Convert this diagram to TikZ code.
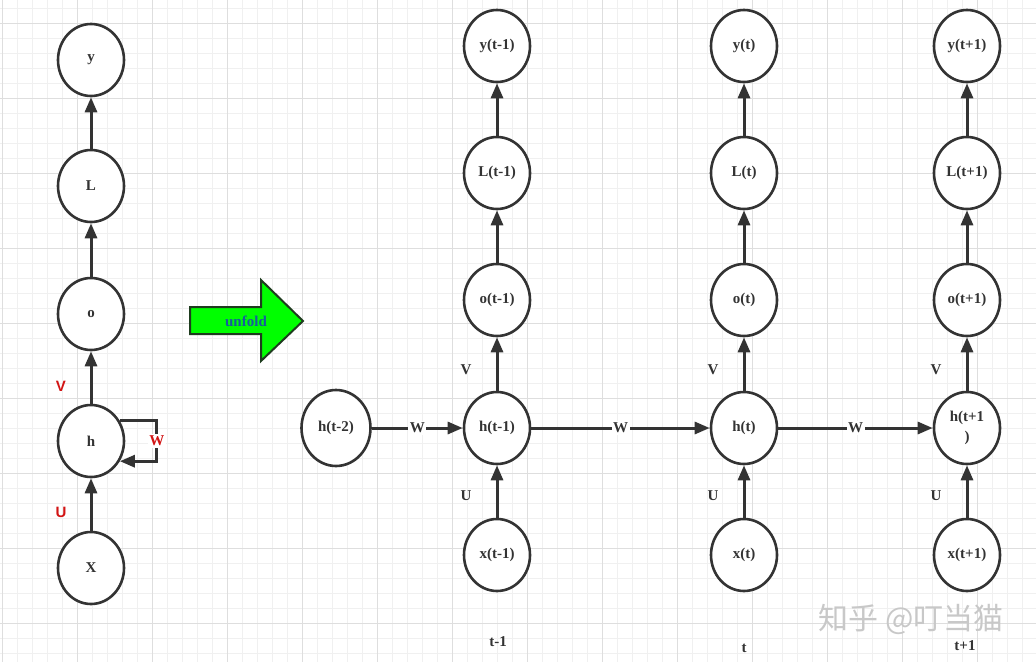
\documentclass[tikz,border=0pt]{standalone}
\usepackage{fontspec}
\setmainfont{Liberation Serif}
\setsansfont{Liberation Sans}
\newfontfamily\cjk{Noto Sans CJK SC}
\usepackage{tikz}
\usetikzlibrary{calc,arrows.meta,shapes.geometric}
\definecolor{dark}{RGB}{51,51,51}
\definecolor{minorgrid}{RGB}{240,240,240}
\definecolor{majorgrid}{RGB}{222,222,222}
\definecolor{unfoldgreen}{RGB}{0,255,0}
\definecolor{unfoldtext}{RGB}{22,92,160}
\definecolor{redtext}{RGB}{210,20,20}

\begin{document}
\begin{tikzpicture}[x=1pt,y=-1pt,
    cell/.style={ellipse,draw=dark,fill=white,line width=2.6pt,minimum width=66pt,minimum height=72pt,inner sep=0pt,align=center,text=dark,font=\bfseries\fontsize{15}{20}\selectfont},
    link/.style={-{Triangle[length=15pt,width=12pt]},draw=dark,line width=3pt},
    wlab/.style={fill=white,inner sep=1.5pt,text=dark,font=\bfseries\fontsize{15}{16}\selectfont},
    plab/.style={text=dark,font=\bfseries\fontsize{15}{16}\selectfont},
    redlab/.style={text=redtext,font=\sffamily\bfseries\fontsize{15}{16}\selectfont}]
  \useasboundingbox (0,0) rectangle (1036,662);
  \fill[white] (0,0) rectangle (1036,662);
  % grid
  \foreach \gx in {2,17,...,1036} \draw[minorgrid,line width=0.8pt] (\gx,0) -- (\gx,662);
  \foreach \gy in {8,23,...,662} \draw[minorgrid,line width=0.8pt] (0,\gy) -- (1036,\gy);
  \foreach \gx in {2,77,...,1036} \draw[majorgrid,line width=1pt] (\gx,0) -- (\gx,662);
  \foreach \gy in {23,98,...,662} \draw[majorgrid,line width=1pt] (0,\gy) -- (1036,\gy);

  % folded network
  \node[cell](ly)at(91,60){y};
  \node[cell](lL)at(91,186){L};
  \node[cell](lo)at(91,314){o};
  \node[cell](lh)at(91,441){h};
  \node[cell](lx)at(91,568){X};
  \draw[link](lx)--(lh);
  \draw[link](lh)--(lo);
  \draw[link](lo)--(lL);
  \draw[link](lL)--(ly);
  \draw[link](lh.35)--++(37,0)|-node[pos=0.25,wlab,text=redtext]{W}(lh.-35);
  \node[redlab](lv)at(61,386){V};
  \node[redlab](lu)at(61,512){U};

  % unfold arrow
  \draw[draw={rgb,255:red,30;green,60;blue,30},fill=unfoldgreen,line width=2pt]
    (190,307)--(261,307)--(261,280)--(303,321)--(261,361)--(261,334)--(190,334)--cycle;
  \node[plab,text=unfoldtext](unfold)at(246,321){unfold};

  % unfolded network
  \node[cell,minimum width=69pt,minimum height=76pt](h0)at(336,428){h(t-2)};
  \foreach \c/\x/\t/\hl in {1/497/t-1/{h(t-1)},2/744/t/{h(t)},3/967/t+1/{h(t+1\\)}}{
    \node[cell](y\c)at(\x,46){y(\t)};
    \node[cell](L\c)at(\x,173){L(\t)};
    \node[cell](o\c)at(\x,300){o(\t)};
    \node[cell](h\c)at(\x,428){\hl};
    \node[cell](x\c)at(\x,555){x(\t)};
    \draw[link](x\c)--(h\c);
    \draw[link](h\c)--(o\c);
    \draw[link](o\c)--(L\c);
    \draw[link](L\c)--(y\c);
    \node[plab](v\c)at(\x-31,370){V};
    \node[plab](u\c)at(\x-31,496){U};
  }
  \node[plab](t1)at(498,642){t-1};
  \node[plab](t2)at(744,648){t};
  \node[plab](t3)at(965,646){t+1};
  \draw[link](h0)--node[wlab]{W}(h1);
  \draw[link](h1)--node[wlab]{W}(h2);
  \draw[link](h2)--node[wlab]{W}(h3);

  % watermark
  \node[text={rgb,255:red,200;green,200;blue,200},font=\cjk\fontsize{30}{30}\selectfont](mark)at(911,619){知乎 @叮当猫};
\end{tikzpicture}
\end{document}
